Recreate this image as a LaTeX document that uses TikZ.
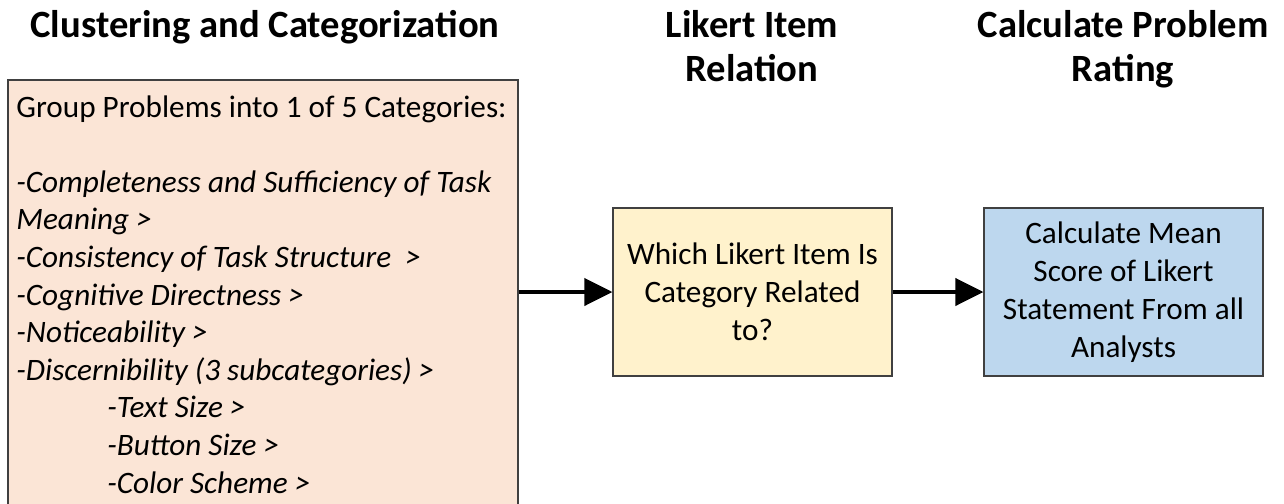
\documentclass[tikz,border=0pt]{standalone}
\usepackage{fontspec}
\setmainfont{Carlito}
\usepackage{tikz}
\usetikzlibrary{arrows.meta, positioning}
\definecolor{catpeach}{HTML}{FBE5D6}
\definecolor{likertgold}{HTML}{FFF2CC}
\definecolor{ratingblue}{HTML}{BDD7EE}
\definecolor{boxgray}{HTML}{404040}
\tikzstyle{headnode} = [align=center, inner sep=0pt, font=\fontsize{19.3}{22}\selectfont\bfseries]
\tikzstyle{catnode} = [draw=boxgray, fill=catpeach, rectangle, line width=0.6pt, minimum width=255pt, minimum height=230pt, inner sep=0pt]
\tikzstyle{cattext} = [align=left, inner sep=0pt, font=\fontsize{15.6}{18.8}\selectfont]
\tikzstyle{stepnode} = [draw=boxgray, rectangle, line width=0.6pt, minimum width=139.5pt, minimum height=84pt, text centered, align=center, font=\fontsize{15.6}{19}\selectfont]
\tikzstyle{arrw} = [line width=2pt, -{Triangle[length=14pt, width=13.5pt]}, color=black]

\begin{document}
\begin{tikzpicture}[x=0.5pt, y=-0.5pt]
    \useasboundingbox (0,0) rectangle (1284,503);
    \clip (0,0) rectangle (1284,503);

    \node (cluster) [catnode] at (263,310) {};
    \node (likert) [stepnode, fill=likertgold] at (752.5,292) {Which Likert Item Is\\Category Related\\to?};
    \node (rating) [stepnode, fill=ratingblue] at (1123.5,292) {Calculate Mean\\Score of Likert\\Statement From all\\Analysts};

    % headings
    \node (h1) [headnode, anchor=north] at (265,10) {Clustering and Categorization};
    \node (h2) [headnode, anchor=north] at (752,10) {Likert Item\\Relation};
    \node (h3) [headnode, anchor=north] at (1123,10) {Calculate Problem\\Rating};

    % category list
    \node (catlist) [cattext, anchor=north west] at (16,95) {Group Problems into 1 of 5 Categories:\\[18.8pt]
        \textit{-Completeness and Sufficiency of Task}\\
        \textit{Meaning >}\\
        \textit{-Consistency of Task Structure~ >}\\
        \textit{-Cognitive Directness >}\\
        \textit{-Noticeability >}\\
        \textit{-Discernibility (3 subcategories) >}\\
        \hspace*{45.5pt}\textit{-Text Size >}\\
        \hspace*{45.5pt}\textit{-Button Size >}\\
        \hspace*{45.5pt}\textit{-Color Scheme >}};

    \draw [arrw] (cluster.east |- likert) -- (likert);
    \draw [arrw] (likert) -- (rating);
\end{tikzpicture}
\end{document}
